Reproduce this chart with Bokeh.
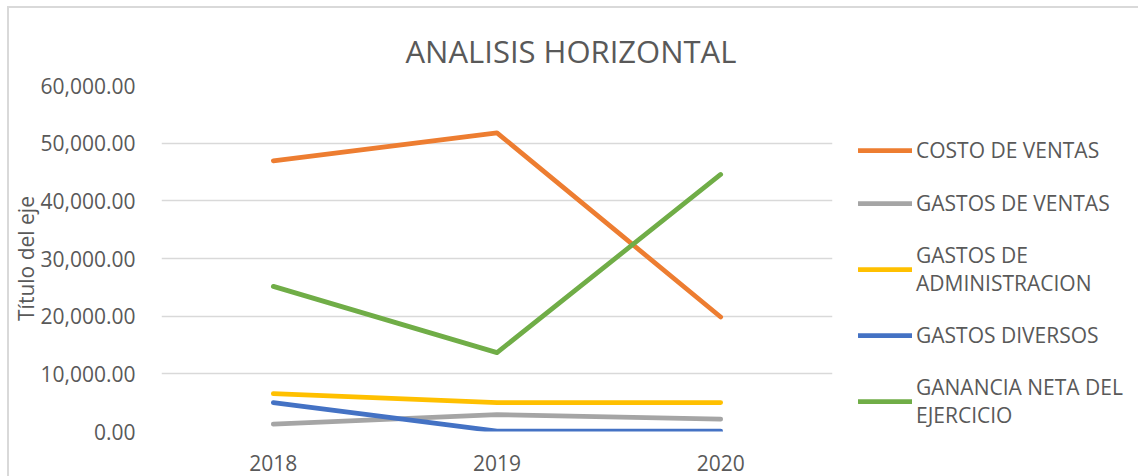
from bokeh.plotting import figure
from bokeh.models import (FactorRange, Range1d, NumeralTickFormatter, FixedTicker,
                          Legend, LegendItem)
from bokeh.embed import file_html
from bokeh.resources import INLINE

years = ["2018", "2019", "2020"]
costo_ventas = [46940, 51790, 19860]
gastos_ventas = [1270, 2940, 2140]
gastos_admin = [6580, 5020, 5020]
gastos_diversos = [5020, 60, 60]
ganancia_neta = [25170, 13680, 44570]
y_ticks = [0, 10000, 20000, 30000, 40000, 50000, 60000]

series = [
    ("COSTO DE VENTAS", costo_ventas, "#ED7D31"),
    ("GASTOS DE VENTAS", gastos_ventas, "#A5A5A5"),
    ("GASTOS DE\nADMINISTRACION", gastos_admin, "#FFC000"),
    ("GASTOS DIVERSOS", gastos_diversos, "#4472C4"),
    ("GANANCIA NETA DEL\nEJERCICIO", ganancia_neta, "#70AD47"),
]

FONT = "Open Sans"
TXT = "#595959"

p = figure(frame_width=671, frame_height=346, x_range=FactorRange(*years, range_padding=0),
           y_range=Range1d(0, 60000), output_backend="svg", toolbar_location=None,
           min_border_left=161, min_border_top=85, min_border_right=0, min_border_bottom=45,
           title="ANALISIS HORIZONTAL")
p.border_fill_color = None
p.styles = {"background": "linear-gradient(#D9D9D9,#D9D9D9) 7px 7px / 2px 100% no-repeat, "
                          "linear-gradient(#D9D9D9,#D9D9D9) 7px 6px / 100% 2px no-repeat, white"}
p.outline_line_color = None

p.title.align = "left"
p.title.offset = 244
p.title.standoff = 27
p.title.text_font = FONT
p.title.text_font_size = "31px"
p.title.text_font_style = "normal"
p.title.text_color = TXT

renderers = []
for name, vals, col in series:
    r = p.line(years, vals, line_color=col, line_width=4.75, line_cap="round", line_join="round")
    renderers.append((name, r))

# axes
p.yaxis.ticker = FixedTicker(ticks=y_ticks)
p.yaxis.formatter = NumeralTickFormatter(format="0,0.00")
for ax in (p.xaxis[0], p.yaxis[0]):
    ax.axis_line_color = None
    ax.major_tick_line_color = None
    ax.minor_tick_line_color = None
    ax.major_tick_out = 0
    ax.major_tick_in = 0
    ax.major_label_text_font = FONT
    ax.major_label_text_font_size = "21px"
    ax.major_label_text_color = TXT
p.yaxis.major_label_standoff = 26
p.xaxis.major_label_standoff = 23
p.yaxis.axis_label = "Título del eje"
p.yaxis.axis_label_text_font = FONT
p.yaxis.axis_label_text_font_size = "21px"
p.yaxis.axis_label_text_font_style = "normal"
p.yaxis.axis_label_text_color = TXT
p.yaxis.axis_label_standoff = -3

p.xgrid.grid_line_color = None
p.ygrid.grid_line_color = "#D9D9D9"
p.ygrid.grid_line_width = 1.3

# legend
legend = Legend(items=[LegendItem(label=n, renderers=[r]) for n, r in renderers],
                location=(26, 2), orientation="vertical",
                glyph_width=54, glyph_height=30, label_height=30, spacing=23,
                label_standoff=4, padding=0, margin=0,
                border_line_color=None, background_fill_alpha=0,
                label_text_font=FONT, label_text_font_size="21px", label_text_color=TXT)
p.add_layout(legend, "right")

open("out.html", "w").write(file_html(p, INLINE))
